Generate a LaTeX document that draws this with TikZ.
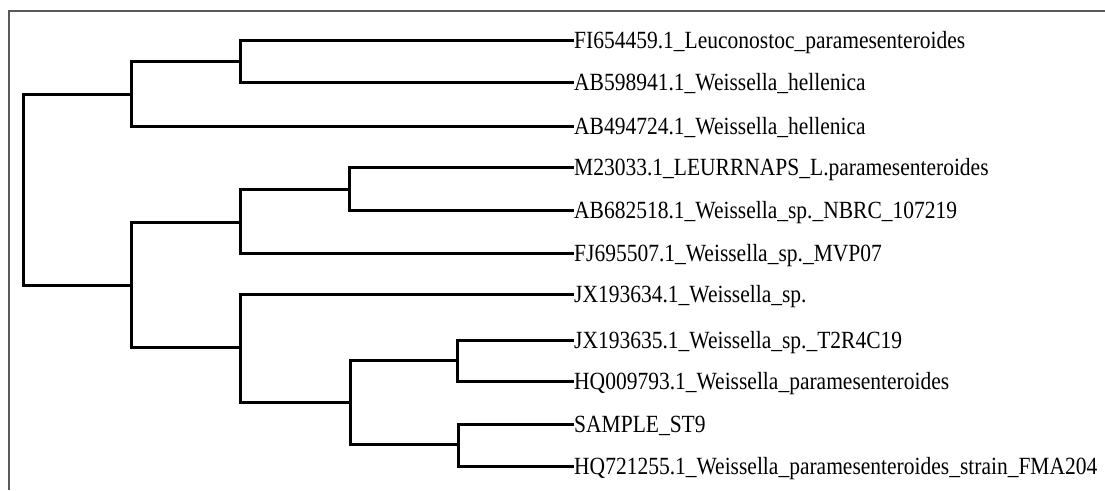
\documentclass[tikz,border=0pt]{standalone}
\usepackage{fontspec}
\setmainfont{Liberation Serif}
\newcommand{\taxlabel}[1]{\scalebox{1}[1.15]{#1}}
\begin{document}
\begin{tikzpicture}[x=1pt, y=-1pt,
  branch/.style={line width=3pt, line cap=rect, line join=miter, black},
  taxon/.style={anchor=base west, inner sep=0pt, font=\fontsize{21.5}{24}\selectfont},
  frameline/.style={line width=1.8pt, black!65}]
\useasboundingbox (0,0) rectangle (1105,490);

% panel frame (top and left edges)
\draw[frameline] (9,490) -- (9,11) -- (1105,11);

% leaf tips
\coordinate (l1)  at (572, 40);
\coordinate (l2)  at (572, 82);
\coordinate (l3)  at (572,126);
\coordinate (l4)  at (572,167);
\coordinate (l5)  at (572,210);
\coordinate (l6)  at (572,253);
\coordinate (l7)  at (572,294);
\coordinate (l8)  at (572,340);
\coordinate (l9)  at (572,381);
\coordinate (l10) at (572,424);
\coordinate (l11) at (572,466);

% internal nodes (x = depth, y = attachment point)
\coordinate (root) at ( 23,189);
\coordinate (nA)   at (131, 94);
\coordinate (nB)   at (240, 61);
\coordinate (nJ)   at (131,285);
\coordinate (nC)   at (240,222);
\coordinate (nE)   at (349,189);
\coordinate (nI)   at (240,347);
\coordinate (nG)   at (350,402);
\coordinate (nF)   at (457,360);
\coordinate (nH)   at (458,444);

% branches
\draw[branch] (root) |- (nA);
\draw[branch] (root) |- (nJ);
\draw[branch] (nA) |- (nB);
\draw[branch] (nA) |- (l3);
\draw[branch] (nB) |- (l1);
\draw[branch] (nB) |- (l2);
\draw[branch] (nJ) |- (nC);
\draw[branch] (nJ) |- (nI);
\draw[branch] (nC) |- (nE);
\draw[branch] (nC) |- (l6);
\draw[branch] (nE) |- (l4);
\draw[branch] (nE) |- (l5);
\draw[branch] (nI) |- (l7);
\draw[branch] (nI) |- (nG);
\draw[branch] (nG) |- (nF);
\draw[branch] (nG) |- (nH);
\draw[branch] (nF) |- (l8);
\draw[branch] (nF) |- (l9);
\draw[branch] (nH) |- (l10);
\draw[branch] (nH) |- (l11);

% taxon labels
\node[taxon] (t1)  at ([xshift=2pt,yshift=-8.5pt]l1)  {\taxlabel{FI654459.1\_Leuconostoc\_paramesenteroides}};
\node[taxon] (t2)  at ([xshift=2pt,yshift=-8.5pt]l2)  {\taxlabel{AB598941.1\_Weissella\_hellenica}};
\node[taxon] (t3)  at ([xshift=2pt,yshift=-8.5pt]l3)  {\taxlabel{AB494724.1\_Weissella\_hellenica}};
\node[taxon] (t4)  at ([xshift=2pt,yshift=-8.5pt]l4)  {\taxlabel{M23033.1\_LEURRNAPS\_L.paramesenteroides}};
\node[taxon] (t5)  at ([xshift=2pt,yshift=-8.5pt]l5)  {\taxlabel{AB682518.1\_Weissella\_sp.\_NBRC\_107219}};
\node[taxon] (t6)  at ([xshift=2pt,yshift=-8.5pt]l6)  {\taxlabel{FJ695507.1\_Weissella\_sp.\_MVP07}};
\node[taxon] (t7)  at ([xshift=2pt,yshift=-8.5pt]l7)  {\taxlabel{JX193634.1\_Weissella\_sp.}};
\node[taxon] (t8)  at ([xshift=2pt,yshift=-8.5pt]l8)  {\taxlabel{JX193635.1\_Weissella\_sp.\_T2R4C19}};
\node[taxon] (t9)  at ([xshift=2pt,yshift=-8.5pt]l9)  {\taxlabel{HQ009793.1\_Weissella\_paramesenteroides}};
\node[taxon] (t10) at ([xshift=2pt,yshift=-8.5pt]l10) {\taxlabel{SAMPLE\_ST9}};
\node[taxon] (t11) at ([xshift=2pt,yshift=-8.5pt]l11) {\taxlabel{HQ721255.1\_Weissella\_paramesenteroides\_strain\_FMA204}};
\end{tikzpicture}
\end{document}
